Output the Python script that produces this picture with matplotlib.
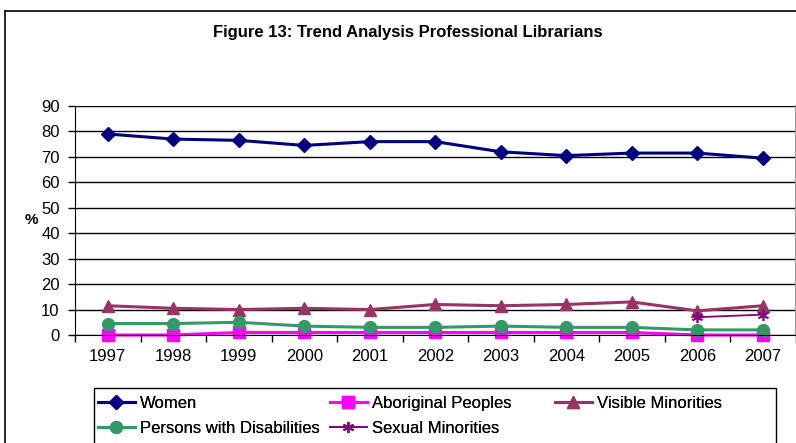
import matplotlib.pyplot as plt
import numpy as np
from matplotlib.lines import Line2D
from matplotlib.patches import Rectangle

plt.rcParams['font.family'] = ['Liberation Sans', 'DejaVu Sans']

years = ['1997', '1998', '1999', '2000', '2001', '2002', '2003', '2004', '2005', '2006', '2007']
women = [79, 77, 76.5, 74.5, 76, 76, 72, 70.5, 71.5, 71.5, 69.5]
aboriginal = [0, 0, 1, 1, 1, 1, 1, 1, 1, 0, 0]
visible = [11.5, 10.5, 10, 10.5, 10, 12, 11.5, 12, 13, 9.5, 11.5]
disabilities = [4.5, 4.5, 5, 3.5, 3, 3, 3.5, 3, 3, 2, 2]
sexual = [np.nan] * 9 + [7, 8]

fig = plt.figure(figsize=(7.96, 4.43), dpi=100)
ax = fig.add_axes([75 / 796, 1 - 335 / 443, 720.5 / 796, 229 / 443])

x = np.arange(len(years))
h_w, = ax.plot(x, women, color='#000080', lw=2.2, marker='D', ms=7.5, label='Women', clip_on=False)
h_a, = ax.plot(x, aboriginal, color='#FF00FF', lw=2.2, marker='s', ms=8, label='Aboriginal Peoples', clip_on=False)
h_v, = ax.plot(x, visible, color='#993366', lw=2.2, marker='^', ms=9, label='Visible Minorities', clip_on=False)
h_d, = ax.plot(x, disabilities, color='#339966', lw=2.2, marker='o', ms=8.5, label='Persons with Disabilities', clip_on=False)
h_s, = ax.plot(x, sexual, color='#800080', lw=1.3, marker=(6, 2, 0), ms=8, mew=1.2, label='Sexual Minorities', clip_on=False)

ax.set_xlim(-0.5, len(years) - 0.5)
ax.set_ylim(0, 90)
ax.set_yticks(range(0, 91, 10))
ax.set_xticks(x)
ax.set_xticklabels(years)
ax.set_xticks(np.arange(-0.5, len(years), 1), minor=True)
ax.tick_params(axis='x', which='major', length=0, pad=10, labelsize=12)
ax.tick_params(axis='x', which='minor', length=5, direction='out', width=1)
ax.tick_params(axis='y', length=5, direction='out', width=1, labelsize=12, pad=6)
ax.yaxis.grid(True, color='black', lw=1)
ax.set_axisbelow(True)
ax.spines['top'].set_visible(False)
ax.spines['right'].set_color('#999999')
ax.spines['right'].set_linewidth(1.5)
ax.set_ylabel('%', rotation=0, fontweight='bold', fontsize=11, va='center', ha='center')
ax.yaxis.set_label_coords(-0.06, 0.5)

fig.text(408 / 796, 1 - 33 / 443, 'Figure 13: Trend Analysis Professional Librarians',
         ha='center', va='center', fontsize=12, fontweight='bold')

# outer chart border
fig.add_artist(Line2D([5 / 796, 5 / 796], [0, 1 - 11 / 443], color='black', lw=1.2))
fig.add_artist(Line2D([5 / 796, 1], [1 - 11 / 443, 1 - 11 / 443], color='black', lw=1.2))

# legend box
fig.add_artist(Rectangle((94 / 796, -0.05), (776 - 94) / 796, 0.05 + (443 - 388) / 443,
                         transform=fig.transFigure, fill=False, edgecolor='black', lw=1))

# one legend per column so the columns sit at fixed positions like the original
leg_kw = dict(loc='upper left', frameon=False, fontsize=12, handlelength=2.2,
              handletextpad=0.3, labelspacing=0.6, borderaxespad=0, borderpad=0)
columns = [([h_w, h_d], 98), ([h_a, h_s], 330), ([h_v], 555)]
for handles, x0 in columns:
    lg = fig.legend(handles, [h.get_label() for h in handles],
                    bbox_to_anchor=(x0 / 796, 1 - 396 / 443), **leg_kw)
    fig.add_artist(lg)

fig.savefig('out.png', dpi=100)
